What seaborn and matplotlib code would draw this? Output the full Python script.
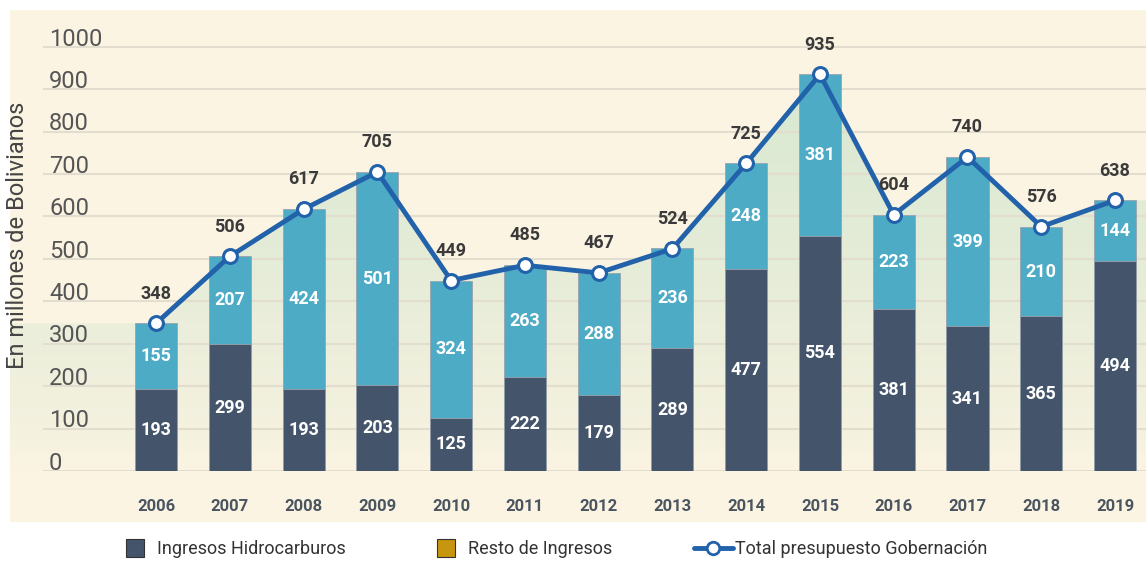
import numpy as np
import pandas as pd
import matplotlib.pyplot as plt
import seaborn as sns
from matplotlib.patches import Rectangle
from matplotlib.lines import Line2D
from matplotlib.colors import LinearSegmentedColormap

# data (millones de Bolivianos)
years = ["2006", "2007", "2008", "2009", "2010", "2011", "2012",
         "2013", "2014", "2015", "2016", "2017", "2018", "2019"]
hidrocarburos = [193, 299, 193, 203, 125, 222, 179, 289, 477, 554, 381, 341, 365, 494]
resto = [155, 207, 424, 501, 324, 263, 288, 236, 248, 381, 223, 399, 210, 144]
total = [348, 506, 617, 705, 449, 485, 467, 524, 725, 935, 604, 740, 576, 638]

c_dark = "#44546a"
c_light = "#4dabc6"
c_line = "#2262aa"
c_gold = "#c8960e"
c_panel = "#fcf4e3"

sns.set_style("white")
plt.rcParams["font.family"] = ["Roboto", "DejaVu Sans"]

df = pd.DataFrame({"year": years, "hidro": hidrocarburos, "resto": resto, "total": total})
df["stack"] = df["hidro"] + df["resto"]

fig = plt.figure(figsize=(11.46, 5.61), dpi=100)
fig.patch.set_facecolor("white")
fig.patches.append(Rectangle((10 / 1146, 1 - 522 / 561), 1136 / 1146, 512 / 561,
                             transform=fig.transFigure, facecolor=c_panel,
                             edgecolor="none", zorder=0))

ax = fig.add_axes([10 / 1146, 90 / 561, 1136 / 1146, 459 / 561])
ax.set_facecolor("none")
ax.set_zorder(1)

xmin, xmax = -1.98, 13.42
ytop = 1082

# green gradient area under the total line
xs = np.r_[xmin, np.arange(len(years)), xmax]
ys = np.r_[total[0], total, total[-1]]
poly = ax.fill_between(xs, ys, 0, color="none", lw=0)
cmap = LinearSegmentedColormap.from_list("g", [(0.85, 0.91, 0.82, 0.0), (0.85, 0.91, 0.82, 1.0)])
grad = np.linspace(1, 0, 256).reshape(-1, 1) ** 0.7
im = ax.imshow(grad, extent=[xmin, xmax, 0, 935], aspect="auto", cmap=cmap,
               origin="upper", zorder=0.5, vmin=0, vmax=1)
im.set_clip_path(poly.get_paths()[0], transform=ax.transData)

# gridlines and y labels inside the plot
for v in range(0, 1001, 100):
    ax.hlines(v, -1.53, xmax, color="#e2ddcf", lw=1.5, zorder=0.6)
    ax.text(-1.45, v + 3, str(v), fontsize=17, color="#555555",
            ha="left", va="baseline")

# stacked bars: full height in light, hidrocarburos on top in dark
sns.barplot(data=df, x="year", y="stack", color=c_light, saturation=1,
            width=0.57, edgecolor="#9aa3ad", linewidth=0.6, ax=ax, zorder=2)
sns.barplot(data=df, x="year", y="hidro", color=c_dark, saturation=1,
            width=0.57, edgecolor="#9aa3ad", linewidth=0.6, ax=ax, zorder=2)

sns.lineplot(x=np.arange(len(years)), y=total, color=c_line, lw=3.5,
             marker="o", markersize=10, markerfacecolor="white",
             markeredgecolor=c_line, markeredgewidth=2.2, ax=ax, zorder=4)

for i in range(len(years)):
    h, r = hidrocarburos[i], resto[i]
    ax.text(i, h / 2, str(h), ha="center", va="center", color="white",
            fontsize=13, fontweight="bold", zorder=5)
    ax.text(i, h + r / 2, str(r), ha="center", va="center", color="white",
            fontsize=13, fontweight="bold", zorder=5)
    ax.annotate(str(total[i]), (i, total[i]), xytext=(0, 15), textcoords="offset points",
                ha="center", va="bottom", color="#3a3a3a", fontsize=13,
                fontweight="bold", zorder=5)

ax.set_xlim(xmin, xmax)
ax.set_ylim(0, ytop)
ax.set_yticks([])
ax.set_xlabel("")
ax.set_ylabel("")
ax.tick_params(axis="x", length=0, pad=20)
for lab in ax.get_xticklabels():
    lab.set_fontweight("bold")
    lab.set_fontsize(12)
    lab.set_color("#4a5560")
sns.despine(ax=ax, left=True, bottom=True)

fig.text(18 / 1146, 1 - 235 / 561, "En millones de Bolivianos", rotation=90,
         ha="center", va="center", fontsize=17, color="#444444")

handles = [
    Line2D([], [], marker="s", linestyle="none", markersize=13,
           markerfacecolor=c_dark, markeredgecolor="#333333", markeredgewidth=0.8),
    Line2D([], [], marker="s", linestyle="none", markersize=13,
           markerfacecolor=c_gold, markeredgecolor="#333333", markeredgewidth=0.8),
    Line2D([], [], color=c_line, lw=3.5, marker="o", markersize=9,
           markerfacecolor="white", markeredgecolor=c_line, markeredgewidth=2),
]
labels = ["Ingresos Hidrocarburos", "Resto de Ingresos", "Total presupuesto Gobernación"]
fig.legend(handles, labels, loc="center", bbox_to_anchor=(0.481, 1 - 549 / 561), ncol=3,
           frameon=False, fontsize=13, handlelength=2.2, handletextpad=0.1,
           columnspacing=4.5, labelcolor="#333333")

fig.savefig("out.png", dpi=100, facecolor="white")
